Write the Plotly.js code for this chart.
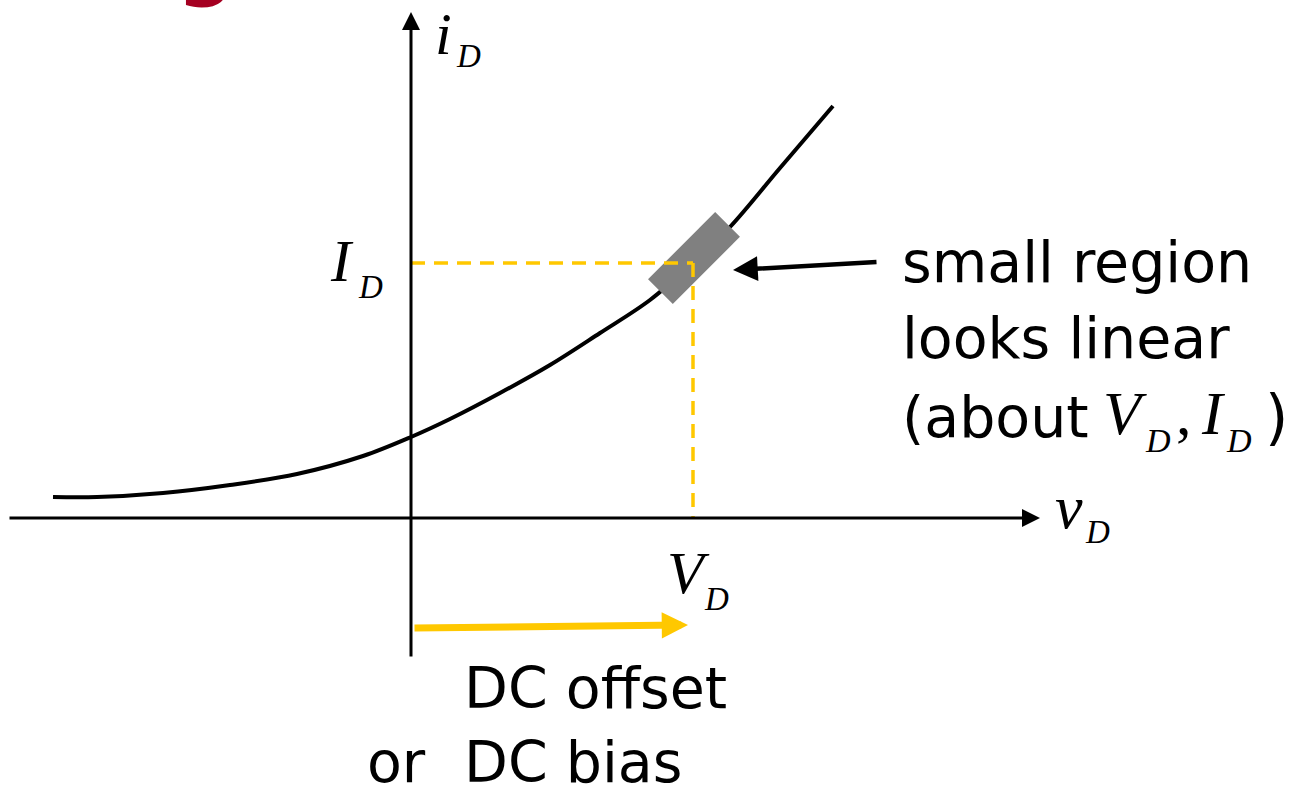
<!DOCTYPE html>
<html><head><meta charset="utf-8">
<script src="https://cdn.plot.ly/plotly-3.0.1.min.js"></script>
<style>html,body{margin:0;padding:0;background:#fff}#chart{width:1312px;height:790px}</style>
</head><body><div id="chart"></div>
<script>
// Diode characteristic i_D vs v_D (arbitrary units, axes cross at 0,0)
const curveV = [-3.58, -3.14, -2.48, -1.81, -1.14, -0.48, 0.00, 0.39, 0.89, 1.39, 1.89, 2.39, 2.82, 3.19, 3.69, 4.22];
const curveI = [0.21, 0.21, 0.25, 0.33, 0.44, 0.62, 0.81, 0.99, 1.25, 1.53, 1.85, 2.18, 2.55, 2.91, 3.50, 4.12];
// operating (bias) point
const biasV = 2.82;
const biasI = 2.55;
// small linear region around the bias point
const regionCenter = [2.83, 2.60];
const regionLength = 0.95;
const regionWidth = 0.35;
const regionAngleDeg = 45;
// axis extents
const vAxisSpan = [-4.03, 6.29];
const iAxisSpan = [-1.40, 5.06];
// DC offset arrow (tail -> head)
const offsetArrowV = [0.02, 2.77];
const offsetArrowI = [-1.10, -1.07];
// pointer arrow to the region (tail -> head)
const pointerArrowV = [4.67, 3.22];
const pointerArrowI = [2.56, 2.48];

const GOLD = '#FFC800';
const SANS = 'DejaVu Sans';
const SERIF = 'Liberation Serif';

// rectangle corners from center / size / angle
const a = regionAngleDeg * Math.PI / 180;
const ux = Math.cos(a), uy = Math.sin(a), nx = -Math.sin(a), ny = Math.cos(a);
const hl = regionLength / 2, hw = regionWidth / 2;
const rectX = [], rectY = [];
[[-1,-1],[1,-1],[1,1],[-1,1],[-1,-1]].forEach(([s,t]) => {
  rectX.push(regionCenter[0] + s*hl*ux + t*hw*nx);
  rectY.push(regionCenter[1] + s*hl*uy + t*hw*ny);
});

const traces = [
  {x: curveV, y: curveI, mode: 'lines', line: {color: '#000', width: 4, shape: 'spline', smoothing: 1}, hoverinfo: 'skip'},
  {x: rectX, y: rectY, mode: 'lines', fill: 'toself', fillcolor: '#808080', line: {width: 0, color: '#808080'}, hoverinfo: 'skip'},
  {x: [0, biasV], y: [biasI, biasI], mode: 'lines', line: {color: GOLD, width: 3.5, dash: '14px,9px'}, hoverinfo: 'skip'},
  {x: [biasV, biasV], y: [biasI, 0], mode: 'lines', line: {color: GOLD, width: 3.5, dash: '14px,9px'}, hoverinfo: 'skip'}
];

function arrow(x0, y0, x1, y1, color, width, size) {
  return {x: x1, y: y1, ax: x0, ay: y0, xref: 'x', yref: 'y', axref: 'x', ayref: 'y',
    text: '', showarrow: true, arrowhead: 2, arrowsize: size, arrowwidth: width, arrowcolor: color};
}
function txt(text, x, y, family, size, xanchor, color) {
  return {x: x, y: y, xref: 'x', yref: 'y', text: text, showarrow: false,
    xanchor: xanchor || 'center', yanchor: 'middle', font: {family: family, size: size, color: color || '#000'}};
}

const annotations = [
  arrow(vAxisSpan[0], 0, vAxisSpan[1], 0, '#000', 3, 1.2),
  arrow(0, iAxisSpan[0], 0, iAxisSpan[1], '#000', 3, 1.2),
  arrow(offsetArrowV[0], offsetArrowI[0], offsetArrowV[1], offsetArrowI[1], GOLD, 7, 0.75),
  arrow(pointerArrowV[0], pointerArrowI[0], pointerArrowV[1], pointerArrowI[1], '#000', 4.5, 1.1),
  // axis labels
  txt('<i>i</i>', 0.32, 4.84, SERIF, 60),
  txt('<i>D</i>', 0.57, 4.62, SERIF, 33),
  txt('<i>v</i>', 6.58, 0.11, SERIF, 62),
  txt('<i>D</i>', 6.86, -0.14, SERIF, 33),
  txt('<i>I</i>', -0.69, 2.57, SERIF, 60),
  txt('<i>D</i>', -0.41, 2.31, SERIF, 33),
  txt('<i>V</i>', 2.77, -0.55, SERIF, 60),
  txt('<i>D</i>', 3.05, -0.81, SERIF, 33),
  // description
  txt('small region', 4.89, 2.56, SANS, 57, 'left'),
  txt('looks linear', 4.89, 1.80, SANS, 57, 'left'),
  txt('(about', 4.89, 1.01, SANS, 57, 'left'),
  txt('<i>V</i>', 6.90, 1.05, SERIF, 62, 'left'),
  txt('<i>D</i>', 7.32, 0.78, SERIF, 34, 'left'),
  txt(',', 7.63, 1.05, SERIF, 62, 'left'),
  txt('<i>I</i>', 7.88, 1.05, SERIF, 62, 'left'),
  txt('<i>D</i>', 8.13, 0.78, SERIF, 34, 'left'),
  txt(')', 8.52, 1.01, SANS, 60, 'left'),
  txt('DC offset', 0.51, -1.70, SANS, 57, 'left'),
  txt('or', -0.46, -2.44, SANS, 57, 'left'),
  txt('DC bias', 0.51, -2.44, SANS, 57, 'left'),
  // remnant of the slide title above
  {x: -2.06, y: 5.07, xref: 'x', yref: 'y', text: '<b>g</b>', showarrow: false, xanchor: 'center', yanchor: 'bottom',
   font: {family: SANS, size: 80, color: '#A50021'}}
];

const layout = {
  width: 1312, height: 790,
  margin: {l: 0, r: 0, t: 0, b: 0, pad: 0},
  paper_bgcolor: '#fff', plot_bgcolor: '#fff',
  showlegend: false,
  xaxis: {range: [-4.11, 9.01], visible: false, fixedrange: true},
  yaxis: {range: [-2.72, 5.18], visible: false, fixedrange: true},
  annotations: annotations
};
Plotly.newPlot('chart', traces, layout, {staticPlot: true, displayModeBar: false});
</script>
</body></html>
